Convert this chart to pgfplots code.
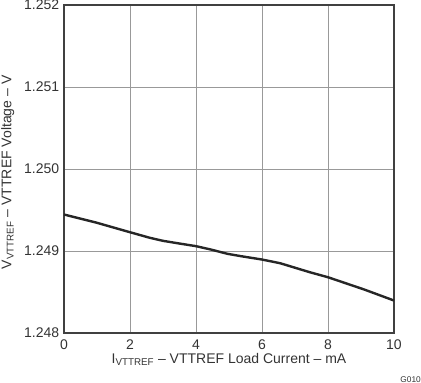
\documentclass[border=0pt]{standalone}
\usepackage{fontspec}
\setmainfont{Liberation Sans}
\usepackage{pgfplots}
\pgfplotsset{compat=1.18}
\begin{document}
\begin{tikzpicture}
\begin{axis}[
  scale only axis,
  width=330pt, height=328pt,
  xmin=0, xmax=10, ymin=1.248, ymax=1.252,
  xtick={0,2,4,6,8,10},
  ytick={1.248,1.249,1.250,1.251,1.252},
  yticklabel style={/pgf/number format/fixed, /pgf/number format/fixed zerofill, /pgf/number format/precision=3, xshift=-1.3pt},
  /pgf/number format/assume math mode=true,
  ticklabel style={font=\fontsize{14}{16}\selectfont, text=black!80},
  xticklabel style={yshift=-5.5pt, inner sep=1pt},
  grid=major,
  grid style={black!40, line width=0.7pt},
  axis line style={black!75, line width=1.6pt},
  tick style={draw=none},
  xlabel={I\textsubscript{VTTREF} – VTTREF Load Current – mA},
  ylabel={V\textsubscript{VTTREF} – VTTREF Voltage – V},
  label style={font=\fontsize{14}{16}\selectfont, text=black!80, inner sep=0pt},
  xlabel style={at={(axis description cs:0.5,-0.061)}, anchor=north},
  ylabel style={at={(axis description cs:-0.1909,0.49)}, anchor=north},
  clip=false,
]
\addplot[black!85, line width=2.4pt] coordinates {
(0,1.249445) (1,1.249344) (2,1.249229) (2.6,1.249161) (3,1.249124) (3.5,1.249091) (4,1.249059) (4.45,1.249018) (4.95,1.248966) (5.36,1.248937) (6,1.248896) (6.55,1.248851) (7.45,1.248741) (8,1.248680) (9.1,1.248530) (10,1.248396)
};
\coordinate (bl) at (rel axis cs:0,0);
\coordinate (tr) at (rel axis cs:1,1);
\node[anchor=south east, inner sep=0pt, font=\fontsize{8.3}{9}\selectfont, text=black!80] at (rel axis cs:1,0) [xshift=27pt, yshift=-49.5pt] {G010};
\end{axis}
\pgfresetboundingbox
\path ([xshift=-64pt,yshift=-50pt]bl) rectangle ([xshift=27pt,yshift=5pt]tr);
\end{tikzpicture}
\end{document}
